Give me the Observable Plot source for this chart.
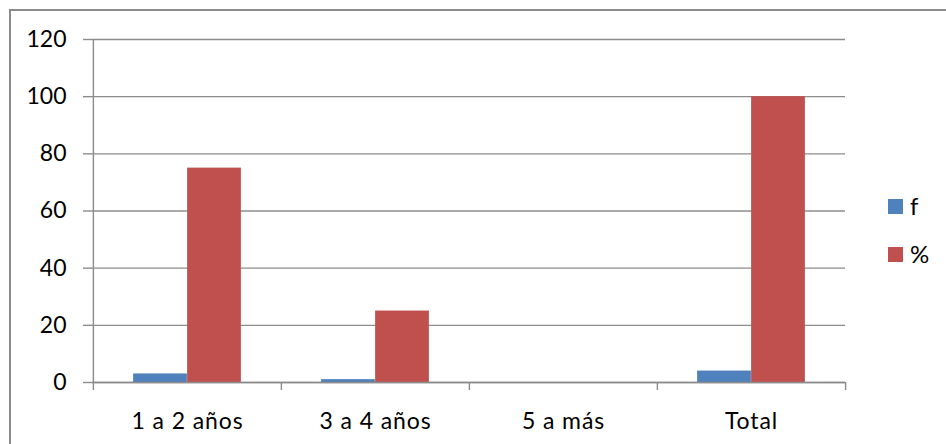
<!DOCTYPE html>
<html>
<head>
<meta charset="utf-8">
<script src="https://cdn.jsdelivr.net/npm/d3@7"></script>
<script src="https://cdn.jsdelivr.net/npm/@observablehq/plot@0.6"></script>
<style>
  html, body { margin: 0; padding: 0; background: #fff; }
  #wrap { position: relative; width: 946px; height: 444px; overflow: hidden; background: #fff; }
  #border { position: absolute; left: 9px; top: 9px; width: 960px; height: 460px; border: 2px solid #8c8c8c; box-sizing: border-box; pointer-events: none; }
  #chart { position: absolute; left: 0; top: 0; }
  .legend { position: absolute; left: 888px; top: 0; font-family: Lato, "Open Sans", sans-serif; font-size: 24px; color: #000; }
  .legend .item { position: absolute; display: flex; align-items: center; white-space: nowrap; line-height: 26px; }
  .legend .sw { width: 15px; height: 15px; display: inline-block; margin-right: 7px; }
  .xax text { letter-spacing: 0.9px; }
</style>
</head>
<body>
<div id="wrap">
  <div id="chart"></div>
  <div id="border"></div>
  <div class="legend" id="legend"></div>
</div>
<script>
const categories = ["1 a 2 años", "3 a 4 años", "5 a más", "Total"];
const seriesNames = ["f", "%"];
const fValues = [3, 1, 0, 4];
const pctValues = [75, 25, 0, 100];
const yTicks = [0, 20, 40, 60, 80, 100, 120];
const colors = ["#4F81BD", "#C0504D"];

const rows = [];
categories.forEach((c, i) => {
  rows.push({cat: c, series: "f", value: fValues[i]});
  rows.push({cat: c, series: "%", value: pctValues[i]});
});

const W = 946, H = 444;
const mL = 92, mR = 101, mT = 39, mB = 62;
const bw = (W - mL - mR) / categories.length;
const barW = 54;
const outer = (bw - 2 * barW) / 2;
const FS = 23;

const chart = Plot.plot({
  width: W,
  height: H,
  marginLeft: mL,
  marginRight: mR,
  marginTop: mT,
  marginBottom: mB,
  style: {fontFamily: "Lato, 'Open Sans', sans-serif", fontSize: FS + "px", color: "#000", background: "transparent"},
  x: {domain: categories, padding: 0, label: null},
  y: {domain: [0, 120], label: null},
  marks: [
    Plot.gridY(yTicks, {stroke: "#8c8c8c", strokeOpacity: 1, strokeWidth: 1.4}),
    Plot.axisY(yTicks, {tickSize: 9, tickPadding: 17, stroke: "#8c8c8c", strokeWidth: 1.4, label: null, fill: "#000", fontSize: FS}),
    Plot.barY(rows.filter(d => d.series === "f"), {x: "cat", y: "value", fill: colors[0], insetLeft: outer, insetRight: outer + barW}),
    Plot.barY(rows.filter(d => d.series === "%"), {x: "cat", y: "value", fill: colors[1], insetLeft: outer + barW, insetRight: outer}),
    Plot.ruleX(categories, {x: d => d, dx: -bw / 2, y1: 0, y2: 0, insetBottom: -8, stroke: "#8c8c8c", strokeWidth: 1.4}),
    Plot.ruleX(categories.slice(-1), {x: d => d, dx: bw / 2, y1: 0, y2: 0, insetBottom: -8, stroke: "#8c8c8c", strokeWidth: 1.4}),
    Plot.ruleX(categories.slice(0, 1), {x: d => d, dx: -bw / 2, y1: 0, y2: 120, stroke: "#8c8c8c", strokeWidth: 1.4}),
    Plot.ruleY([0], {stroke: "#8c8c8c", strokeWidth: 1.4}),
    Plot.axisX({tickSize: 0, tickPadding: 30, label: null, fill: "#000", fontSize: FS, className: "xax"})
  ]
});
document.getElementById("chart").appendChild(chart);

const legend = document.getElementById("legend");
seriesNames.forEach((s, i) => {
  const item = document.createElement("div");
  item.className = "item";
  item.style.top = (193 + i * 48) + "px";
  const sw = document.createElement("span");
  sw.className = "sw";
  sw.style.background = colors[i];
  item.appendChild(sw);
  item.appendChild(document.createTextNode(s));
  legend.appendChild(item);
});
</script>
</body>
</html>
